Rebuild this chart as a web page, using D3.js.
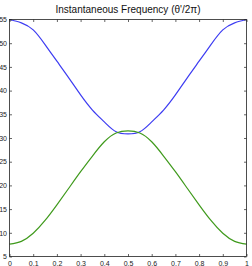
<!DOCTYPE html>
<html><head><meta charset="utf-8">
<script src="https://cdn.jsdelivr.net/npm/d3@7"></script>
<style>html,body{margin:0;padding:0;background:#fff;overflow:hidden}</style>
</head><body>
<svg id="c" width="252" height="266"></svg>
<script>
const tValues = [0, 0.05, 0.1, 0.15, 0.2, 0.25, 0.3, 0.35, 0.4, 0.45, 0.5, 0.55, 0.6, 0.65, 0.7, 0.75, 0.8, 0.85, 0.9, 0.95, 1];
const blueSeries = [55.0, 54.3, 52.8, 49.7, 46.2, 42.7, 39.1, 35.9, 33.4, 31.3, 30.85, 31.3, 33.4, 35.9, 39.1, 42.7, 46.2, 49.7, 52.8, 54.3, 55.0];
const greenSeries = [7.6, 8.2, 9.9, 12.6, 15.9, 19.4, 22.9, 26.2, 29.2, 31.05, 31.5, 31.05, 29.2, 26.2, 22.9, 19.4, 15.9, 12.6, 9.9, 8.2, 7.6];
const xTicks = [0, 0.1, 0.2, 0.3, 0.4, 0.5, 0.6, 0.7, 0.8, 0.9, 1];
const xTickLabels = ["0", "0.1", "0.2", "0.3", "0.4", "0.5", "0.6", "0.7", "0.8", "0.9", "1"];
const yTicks = [5, 10, 15, 20, 25, 30, 35, 40, 45, 50, 55];
const title = "Instantaneous Frequency (θ'/2π)";

const L = 9.5, R = 246.5, T = 19.5, B = 256.5;
const svg = d3.select("#c");
const x = d3.scaleLinear().domain([0, 1]).range([L, R]);
const y = d3.scaleLinear().domain([5, 55]).range([B, T]);
const font = "'Liberation Sans', Arial, Helvetica, sans-serif";

const line = d3.line().x((d, i) => x(tValues[i])).y(d => y(d)).curve(d3.curveNatural);
svg.append("path").datum(blueSeries).attr("d", line).attr("fill", "none").attr("stroke", "#3d3cf2").attr("stroke-width", 1.2);
svg.append("path").datum(greenSeries).attr("d", line).attr("fill", "none").attr("stroke", "#3f9a1c").attr("stroke-width", 1.2);

const tl = -2.5;
function style(g) {
  g.select(".domain").remove();
  g.selectAll("line").attr("stroke", "#222").attr("stroke-width", 0.7);
  g.selectAll("text").attr("font-family", font).attr("font-size", 7).attr("fill", "#222");
}
svg.append("g").attr("transform", `translate(0,${B})`)
  .call(d3.axisBottom(x).tickValues(xTicks).tickFormat((d, i) => xTickLabels[i]).tickSizeInner(tl).tickSizeOuter(0).tickPadding(5))
  .call(style);
svg.append("g").attr("transform", `translate(0,${T})`)
  .call(d3.axisTop(x).tickValues(xTicks).tickFormat("").tickSizeInner(tl).tickSizeOuter(0))
  .call(style);
svg.append("g").attr("transform", `translate(${L},0)`)
  .call(d3.axisLeft(y).tickValues(yTicks).tickFormat(d3.format("d")).tickSizeInner(tl).tickSizeOuter(0).tickPadding(2.5))
  .call(style);
svg.append("g").attr("transform", `translate(${R},0)`)
  .call(d3.axisRight(y).tickValues(yTicks).tickFormat("").tickSizeInner(tl).tickSizeOuter(0))
  .call(style);

svg.append("rect").attr("x", L).attr("y", T).attr("width", R - L).attr("height", B - T)
  .attr("fill", "none").attr("stroke", "#222").attr("stroke-width", 0.8);

svg.append("text").attr("x", (L + R) / 2).attr("y", 13).attr("text-anchor", "middle")
  .attr("font-family", font).attr("font-size", 10).attr("fill", "#111").text(title);
</script>
</body></html>
